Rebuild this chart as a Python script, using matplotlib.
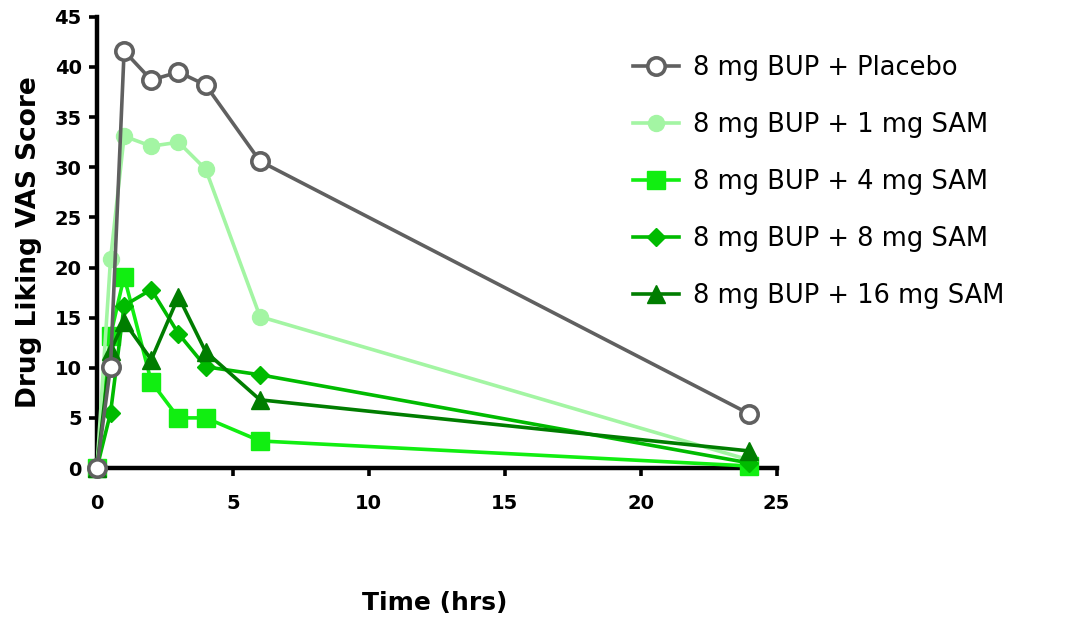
import matplotlib
matplotlib.use("Agg")
import matplotlib.pyplot as plt

# Time points (hrs)
time_hrs = [0, 0.5, 1, 2, 3, 4, 6, 24]

# Mean Drug Liking VAS scores per treatment arm
placebo = [0, 10.1, 41.6, 38.7, 39.5, 38.2, 30.6, 5.4]
sam_1mg = [0, 20.8, 33.1, 32.1, 32.5, 29.8, 15.1, 0.8]
sam_4mg = [0, 13.2, 19.1, 8.6, 5.0, 5.0, 2.7, 0.2]
sam_8mg = [0, 5.5, 16.2, 17.8, 13.4, 10.1, 9.3, 0.5]
sam_16mg = [0, 11.7, 14.6, 10.8, 17.1, 11.6, 6.8, 1.7]

labels = [
    "8 mg BUP + Placebo",
    "8 mg BUP + 1 mg SAM",
    "8 mg BUP + 4 mg SAM",
    "8 mg BUP + 8 mg SAM",
    "8 mg BUP + 16 mg SAM",
]

x_ticks = [0, 5, 10, 15, 20, 25]
y_ticks = [0, 5, 10, 15, 20, 25, 30, 35, 40, 45]

plt.rcParams["font.family"] = ["DejaVu Sans"]

fig = plt.figure(figsize=(10.77, 6.18), dpi=100)
ax = fig.add_axes([0.090, 0.2427, 0.631, 0.730])

lw = 2.6
styles = [
    dict(color="#606060", marker="o", markersize=12.5, markerfacecolor="white",
         markeredgecolor="#606060", markeredgewidth=2.6, zorder=7),
    dict(color="#a3f5a3", marker="o", markersize=11.5, markerfacecolor="#a3f5a3",
         markeredgecolor="#a3f5a3", zorder=4),
    dict(color="#11ee11", marker="s", markersize=12.5, markerfacecolor="#11ee11",
         markeredgecolor="#11ee11", zorder=3),
    dict(color="#00bb00", marker="D", markersize=9, markerfacecolor="#00bb00",
         markeredgecolor="#00bb00", zorder=5),
    dict(color="#007d00", marker="^", markersize=12.5, markerfacecolor="#007d00",
         markeredgecolor="#007d00", zorder=6),
]
series = [placebo, sam_1mg, sam_4mg, sam_8mg, sam_16mg]

handles = []
for vals, lab, st in zip(series, labels, styles):
    h, = ax.plot(time_hrs, vals, linewidth=lw, label=lab, clip_on=False, **st)
    handles.append(h)

ax.set_xlim(0, 25)
ax.set_ylim(0, 45)
ax.set_xticks(x_ticks)
ax.set_yticks(y_ticks)

for side in ("top", "right"):
    ax.spines[side].set_visible(False)
for side in ("left", "bottom"):
    ax.spines[side].set_linewidth(3.2)
    ax.spines[side].set_color("black")

ax.tick_params(axis="both", direction="out", length=6, width=2.6, color="black",
               labelsize=14, pad=5)
for t in ax.get_xticklabels() + ax.get_yticklabels():
    t.set_fontweight("bold")
ax.tick_params(axis="x", pad=13)

ax.set_ylabel("Drug Liking VAS Score", fontsize=19, fontweight="bold", labelpad=9)
fig.text(0.404, 0.024, "Time (hrs)", fontsize=18, fontweight="bold",
         ha="center", va="center")

leg = fig.legend(handles=handles, labels=labels, loc="upper left",
                 bbox_to_anchor=(0.566, 0.948), frameon=False,
                 handlelength=1.8, handletextpad=0.55,
                 labelspacing=1.2, prop={"family": ["DejaVu Sans"], "size": 18.5})

fig.savefig("out.png", dpi=100, facecolor="white")
